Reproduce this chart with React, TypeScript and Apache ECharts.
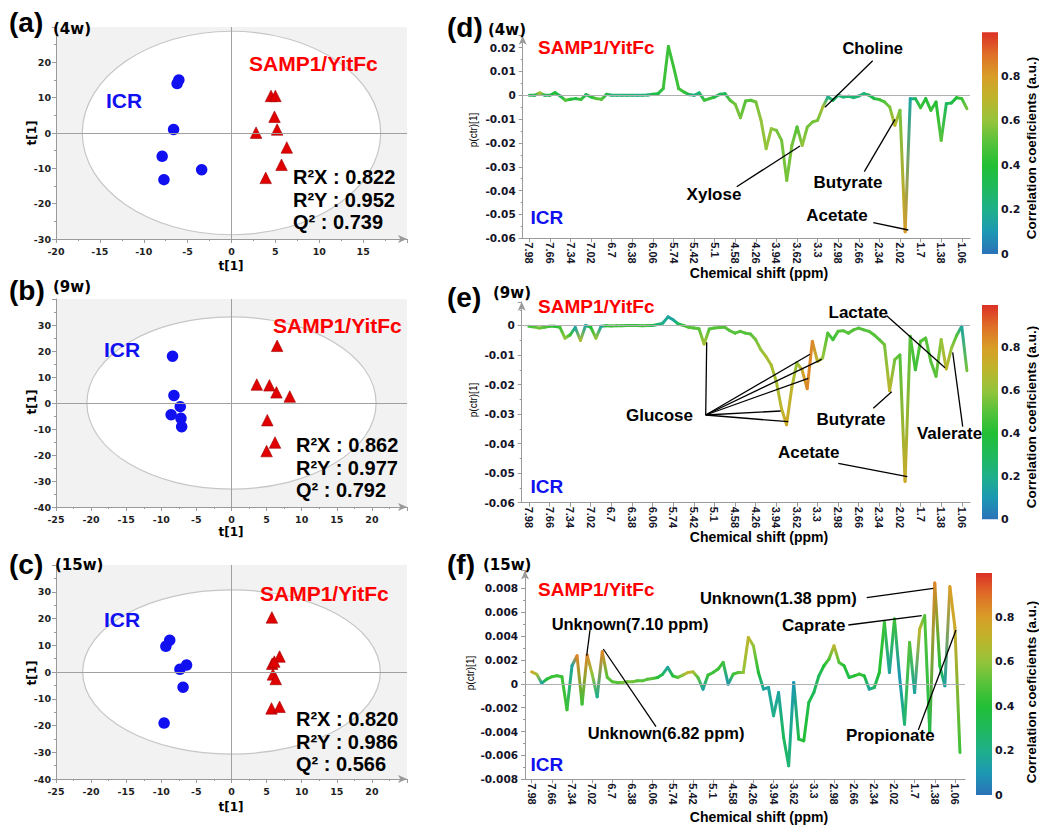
import React, { useEffect, useRef } from 'react';
import * as echarts from 'echarts';

// ---------- data ----------
const shiftLabels = ['7.98','7.66','7.34','7.02','6.7','6.38','6.06','5.74','5.42','5.1','4.58','4.26','3.94','3.62','3.3','2.98','2.66','2.34','2.02','1.7','1.38','1.06'];
const BINS = 4; // spectral bins between two shift labels

// loadings p(ctr)[1], in units of 1e-3
const p4wMilli = [
  0,0,1.0,0,0,1.1,-0.3,-2.1,-1.7,-1.4,
  -1.8,0.3,-0.7,-1.4,-1.7,0.4,0,0,0,0,
  0,0,0,0.1,0.4,0.7,2.8,20.5,12.0,2.8,
  1.4,0.3,0,1.0,-2.1,-1.4,-0.7,0.4,0.7,-2.1,
  -3.8,-9.4,-2.4,-2.1,-2.8,-10.5,-22.4,-14.0,-14.7,-18.9,
  -35.7,-21.0,-13.3,-21.0,-13.3,-11.2,-10.5,-4.9,-0.7,-2.1,
  0,-0.7,-0.4,-1.0,-0.3,0.7,0,-1.4,-1.8,-2.8,
  -4.9,-12.6,-6.3,-57.3,-1.4,-1.4,-5.2,-1.4,-6.3,-2.8,
  -18.9,-3.5,-3.2,-1.0,-1.4,-5.6
];
const corr4w = [
  0.3,0.3,0.65,0.3,0.35,0.4,0.3,0.5,0.4,0.35,
  0.45,0.3,0.4,0.5,0.5,0.35,0.25,0.25,0.25,0.25,
  0.25,0.2,0.25,0.25,0.35,0.35,0.45,0.45,0.45,0.45,
  0.45,0.3,0.2,0.25,0.45,0.45,0.35,0.3,0.3,0.5,
  0.55,0.55,0.5,0.5,0.55,0.6,0.6,0.6,0.55,0.55,
  0.55,0.55,0.5,0.6,0.55,0.55,0.55,0.65,0.2,0.3,
  0.25,0.25,0.25,0.25,0.25,0.25,0.3,0.35,0.45,0.5,
  0.55,0.7,0.55,0.8,0.15,0.3,0.45,0.4,0.45,0.4,
  0.5,0.3,0.35,0.4,0.45,0.55
];
const p9wMilli = [
  -0.3,-0.5,-0.9,-0.6,-0.3,-0.3,-0.6,-4.3,-3.2,-0.7,
  -5.1,0,-0.6,-4.3,-0.3,-0.1,-0.2,-0.1,-0.1,0,
  0,0,-0.1,0,0,0.3,0.8,2.9,1.9,0.5,
  0,-0.6,-0.9,-1.1,-6.3,-1.2,-0.9,-0.7,-0.6,-1.8,
  -2.6,-2.0,-2.6,-2.9,-4.8,-8.2,-10.5,-13.3,-18.9,-28.0,
  -33.6,-21.2,-12.7,-15.0,-21.4,-5.4,-12.2,-11.0,-2.6,-4.8,
  -2.0,-1.8,-2.6,-1.5,-0.9,-1.5,-2.0,-3.2,-4.8,-6.5,
  -22.1,-11.6,-10.0,-52.8,-3.7,-15.0,-5.4,-4.3,-12.2,-17.2,
  -4.8,-14.7,-7.7,-3.4,-0.3,-15.3
];
const corr9w = [
  0.45,0.5,0.55,0.5,0.45,0.4,0.45,0.6,0.45,0.15,
  0.65,0.15,0.4,0.6,0.15,0.4,0.45,0.45,0.45,0.45,
  0.45,0.45,0.45,0.45,0.35,0.25,0.2,0.15,0.15,0.3,
  0.45,0.5,0.5,0.5,0.65,0.5,0.5,0.5,0.5,0.5,
  0.5,0.5,0.5,0.5,0.55,0.6,0.65,0.65,0.65,0.7,
  0.75,0.7,0.6,0.75,0.85,0.85,0.7,0.6,0.5,0.45,
  0.5,0.5,0.5,0.5,0.5,0.5,0.5,0.5,0.5,0.55,
  0.7,0.55,0.5,0.75,0.5,0.45,0.5,0.5,0.5,0.5,
  0.6,0.7,0.6,0.5,0.15,0.55
];
const p15wMilli = [
  1.0,0.8,0.05,0.39,0.59,0.67,0.59,-2.18,1.51,2.35,
  -1.70,2.40,0.81,-1.09,2.68,0.53,0.17,0.11,0.11,0.17,
  0.17,0.25,0.25,0.39,0.45,0.53,0.81,1.37,0.67,0.53,
  0.73,0.95,1.0,0.53,-0.45,0.73,0.95,1.23,1.79,-0.03,
  0.81,0.95,0.95,3.88,3.18,0.95,-0.45,-0.31,-2.68,-0.73,
  -4.5,-6.87,0.11,-4.64,-4.78,-1.56,-0.73,0.67,1.51,2.07,
  3.18,1.79,1.51,0.53,0.67,0.81,0.67,-0.45,-0.31,0.95,
  5.14,0.95,5.42,0.67,-3.38,3.46,-0.73,4.58,5.70,-4.08,
  8.44,1.51,-0.17,8.13,4.72,-5.75
];
const corr15w = [
  0.75,0.65,0.15,0.4,0.45,0.45,0.45,0.45,0.15,0.85,
  0.45,0.85,0.6,0.2,0.85,0.5,0.5,0.5,0.55,0.55,
  0.55,0.5,0.5,0.5,0.5,0.4,0.3,0.15,0.4,0.5,
  0.6,0.7,0.65,0.5,0.15,0.45,0.45,0.45,0.45,0.1,
  0.45,0.5,0.6,0.7,0.6,0.4,0.15,0.15,0.2,0.15,
  0.3,0.25,0.1,0.35,0.4,0.35,0.3,0.3,0.4,0.5,
  0.7,0.5,0.4,0.35,0.4,0.45,0.4,0.15,0.3,0.4,
  0.45,0.15,0.45,0.1,0.25,0.5,0.15,0.7,0.5,0.35,
  0.85,0.4,0.15,0.8,0.75,0.45
];

// OPLS-DA scores t[1] (x) vs orthogonal t[1] (y)
const icr4w = [[-6.0,15],[-6.2,14],[-6.6,1],[-7.9,-6.6],[-7.7,-13.2],[-3.4,-10.4]];
const samp4w = [[4.5,10.5],[5.0,10.5],[4.9,4.6],[5.2,1.0],[2.8,0.1],[6.3,-4.1],[5.7,-9],[3.9,-12.7]];
const icr9w = [[-8.4,18],[-8.2,2.9],[-7.3,-1.4],[-8.6,-4.5],[-7.2,-5.9],[-7.1,-9.1]];
const samp9w = [[6.5,22],[3.6,7.1],[5.4,6.8],[6.4,4.1],[8.3,2.5],[5.1,-6.6],[6.2,-15.2],[5.0,-18.5]];
const icr15w = [[-8.8,11.9],[-9.35,9.6],[-7.35,1.0],[-6.4,2.6],[-6.9,-5.7],[-9.6,-19.1]];
const samp15w = [[5.75,20.4],[6.85,5.8],[5.8,3.1],[6.1,3.9],[5.9,-0.9],[6.3,-2.6],[5.7,-13.6],[6.85,-13]];
// Hotelling T2 ellipse radii [rx, ry]
const ellipse4w = [17, 28.8];
const ellipse9w = [20.6, 33.1];
const ellipse15w = [21.2, 30.7];
const stats4w = ['R²X : 0.822', 'R²Y : 0.952', 'Q² : 0.739'];
const stats9w = ['R²X : 0.862', 'R²Y : 0.977', 'Q² : 0.792'];
const stats15w = ['R²X : 0.820', 'R²Y : 0.986', 'Q² : 0.566'];

// ---------- styling helpers ----------
const ARIAL = '"Liberation Sans", Arial, sans-serif';
const VERD = '"DejaVu Sans", Verdana, sans-serif';
const NARROW = '"Liberation Sans Narrow", "Liberation Sans", Arial, sans-serif';
const RED = '#ff0000';
const BLUE = '#1010f0';
const AXIS_GRAY = '#9a9a9a';

const cmapStops: [number, string][] = [
  [0, '#2a72b8'], [0.1, '#1d98b3'], [0.2, '#1fb08a'], [0.3, '#1fb95c'], [0.4, '#22bf35'],
  [0.5, '#55c23a'], [0.6, '#94c43b'], [0.7, '#bdb52c'], [0.8, '#d89e27'], [0.9, '#df6f28'], [1, '#dc3025']
];
function hex(h: string) {
  return [parseInt(h.slice(1, 3), 16), parseInt(h.slice(3, 5), 16), parseInt(h.slice(5, 7), 16)];
}
function cmap(t: number) {
  const v = Math.max(0, Math.min(1, t));
  for (let k = 0; k < cmapStops.length - 1; k++) {
    const [a, ca] = cmapStops[k];
    const [b, cb] = cmapStops[k + 1];
    if (v <= b) {
      const f = (v - a) / (b - a);
      const A = hex(ca), B = hex(cb);
      return `rgb(${Math.round(A[0] + (B[0] - A[0]) * f)},${Math.round(A[1] + (B[1] - A[1]) * f)},${Math.round(A[2] + (B[2] - A[2]) * f)})`;
    }
  }
  return cmapStops[cmapStops.length - 1][1];
}

function txt(text: string, x: number, y: number, size: number, opts: any = {}) {
  return {
    type: 'text', x, y, rotation: opts.rotation || 0, silent: true, z: 100,
    style: {
      text, fill: opts.color || '#000',
      font: `${opts.weight || 'bold'} ${size}px ${opts.family || ARIAL}`,
      textAlign: opts.align || 'left', textVerticalAlign: 'middle'
    }
  };
}
function seg(x1: number, y1: number, x2: number, y2: number) {
  return { type: 'line', silent: true, z: 100, shape: { x1, y1, x2, y2 }, style: { stroke: '#000', lineWidth: 1.3 } };
}

function buildOption() {
  const grid: any[] = [];
  const xAxis: any[] = [];
  const yAxis: any[] = [];
  const series: any[] = [];
  const graphic: any[] = [];

  // ----- score plots -----
  const scorePanels = [
    { box: { left: 56, top: 27, width: 351, height: 212 }, xr: [-20, 20], yr: [-30, 30], yInt: 10, icr: icr4w, samp: samp4w, ell: ellipse4w },
    { box: { left: 56, top: 299, width: 351, height: 208 }, xr: [-25, 25], yr: [-40, 40], yInt: 10, icr: icr9w, samp: samp9w, ell: ellipse9w },
    { box: { left: 56, top: 565, width: 351, height: 214 }, xr: [-25, 25], yr: [-40, 40], yInt: 10, icr: icr15w, samp: samp15w, ell: ellipse15w },
  ];
  const tickLabel = { fontFamily: VERD, fontWeight: 'bold', fontSize: 9.5, color: '#1e1e1e' };
  scorePanels.forEach((p, k) => {
    grid.push({ ...p.box, show: true, backgroundColor: '#f2f2f2', borderWidth: 0, containLabel: false, outerBoundsMode: 'none' });
    xAxis.push({
      gridIndex: k, type: 'value', min: p.xr[0], max: p.xr[1], interval: 5,
      axisLine: { show: true, onZero: false, symbol: ['none', 'arrow'], symbolSize: [6, 9], lineStyle: { color: AXIS_GRAY } },
      axisTick: { show: true, length: 4, lineStyle: { color: AXIS_GRAY } },
      minorTick: { show: true, splitNumber: 2, length: 2, lineStyle: { color: AXIS_GRAY } },
      splitLine: { show: false },
      axisLabel: { ...tickLabel, showMaxLabel: false, margin: 7 }
    });
    yAxis.push({
      gridIndex: k, type: 'value', min: p.yr[0], max: p.yr[1], interval: p.yInt,
      axisLine: { show: true, onZero: false, lineStyle: { color: AXIS_GRAY } },
      axisTick: { show: true, length: 4, lineStyle: { color: AXIS_GRAY } },
      minorTick: { show: true, splitNumber: 2, length: 2, lineStyle: { color: AXIS_GRAY } },
      splitLine: { show: false },
      axisLabel: { ...tickLabel, showMaxLabel: false, margin: 5 }
    });
    const ell = p.ell;
    series.push({
      type: 'custom', xAxisIndex: k, yAxisIndex: k, z: 1, silent: true, data: [[0, 0]],
      renderItem: (_params: any, api: any) => {
        const c = api.coord([0, 0]);
        const s = api.size([ell[0], ell[1]], [0, 0]);
        return { type: 'ellipse', shape: { cx: c[0], cy: c[1], rx: s[0], ry: s[1] }, style: { fill: '#ffffff', stroke: '#c6c6c6', lineWidth: 1.2 } };
      }
    });
    series.push({
      type: 'scatter', xAxisIndex: k, yAxisIndex: k, z: 3, symbol: 'circle', symbolSize: 11.5,
      itemStyle: { color: BLUE, opacity: 1 }, data: p.icr,
      markLine: {
        silent: true, symbol: 'none', label: { show: false }, animation: false,
        lineStyle: { color: '#a0a0a0', width: 1, type: 'solid' },
        data: [{ xAxis: 0 }, { yAxis: 0 }]
      }
    });
    series.push({
      type: 'scatter', xAxisIndex: k, yAxisIndex: k, z: 3, symbol: 'triangle', symbolSize: 11.5,
      itemStyle: { color: '#e00000', borderColor: '#a00000', borderWidth: 0.6, opacity: 1 }, data: p.samp
    });
  });

  // ----- loading (S-line) plots -----
  const tickIdx = shiftLabels.map((_, k) => k * BINS);
  const linePanels = [
    { box: { left: 522.7, top: 35.7, width: 447.3, height: 202.6 }, xr: [-1.3, 85.6], yr: [-0.06, 0.025], yInt: 0.01, p: p4wMilli, c: corr4w },
    { box: { left: 521.7, top: 301.8, width: 448.3, height: 200.9 }, xr: [-1.4, 85.6], yr: [-0.06, 0.008], yInt: 0.01, p: p9wMilli, c: corr9w },
    { box: { left: 525, top: 570.4, width: 440, height: 208.9 }, xr: [-1.33, 86.0], yr: [-0.008, 0.0095], yInt: 0.002, p: p15wMilli, c: corr15w },
  ];
  const yLab = { fontFamily: VERD, fontWeight: 'bold', fontSize: 10.5, color: '#141428' };
  linePanels.forEach((lp, j) => {
    const gi = 3 + j;
    const vals = lp.p.map(v => v / 1000);
    const cor = lp.c;
    grid.push({ ...lp.box, show: false, containLabel: false, outerBoundsMode: 'none' });
    xAxis.push({
      gridIndex: gi, type: 'value', min: lp.xr[0], max: lp.xr[1],
      axisLine: { show: true, onZero: false, lineStyle: { color: AXIS_GRAY } },
      axisTick: { show: true, length: 4, customValues: tickIdx, lineStyle: { color: AXIS_GRAY } },
      splitLine: { show: false },
      axisLabel: {
        customValues: tickIdx, rotate: -90, margin: 4,
        fontFamily: NARROW, fontWeight: 'bold', fontSize: 11, color: '#141428',
        formatter: (v: number) => shiftLabels[Math.round(v / BINS)] ?? ''
      }
    });
    yAxis.push({
      gridIndex: gi, type: 'value', min: lp.yr[0], max: lp.yr[1], interval: lp.yInt,
      axisLine: { show: true, onZero: false, symbol: ['none', 'arrow'], symbolSize: [6, 9], lineStyle: { color: AXIS_GRAY } },
      axisTick: { show: true, length: 4, lineStyle: { color: AXIS_GRAY } },
      minorTick: { show: true, splitNumber: 2, length: 2, lineStyle: { color: AXIS_GRAY } },
      splitLine: { show: false },
      axisLabel: {
        ...yLab, showMaxLabel: false, margin: 7,
        formatter: (v: number) => { const r = Math.round(v * 10000) / 10000; return r === 0 ? '0' : String(r); }
      }
    });
    // invisible host for the zero reference line
    series.push({
      type: 'line', xAxisIndex: gi, yAxisIndex: gi, z: 1, silent: true, symbol: 'none',
      lineStyle: { opacity: 0 }, data: vals.map((v, i) => [i, v]),
      markLine: {
        silent: true, symbol: 'none', label: { show: false }, animation: false,
        lineStyle: { color: '#b0b0b0', width: 1.2, type: 'solid' }, data: [{ yAxis: 0 }]
      }
    });
    // spectrum coloured by correlation coefficient
    series.push({
      type: 'custom', xAxisIndex: gi, yAxisIndex: gi, z: 3, silent: true,
      encode: { x: 0, y: 1 },
      data: vals.map((v, i) => [i, v, cor[i]]),
      renderItem: (params: any, api: any) => {
        const i = params.dataIndex;
        if (i >= vals.length - 1) return { type: 'group', children: [] };
        const a = api.coord([i, vals[i]]);
        const b = api.coord([i + 1, vals[i + 1]]);
        const grad = new echarts.graphic.LinearGradient(a[0], a[1], b[0] + 0.01, b[1] + 0.01, [
          { offset: 0, color: cmap(cor[i]) }, { offset: 1, color: cmap(cor[i + 1]) }
        ], true);
        return {
          type: 'line', shape: { x1: a[0], y1: a[1], x2: b[0], y2: b[1] },
          style: { stroke: grad, lineWidth: 3, lineCap: 'round' }
        };
      }
    });
  });

  // ----- colour bars -----
  const barBoxes = [
    { left: 982, top: 32.3, width: 16, height: 221.7 },
    { left: 982, top: 305, width: 16, height: 214.3 },
    { left: 976, top: 573, width: 16, height: 222 },
  ];
  const gradStops = cmapStops.map(([o, c]) => ({ offset: o, color: c }));
  barBoxes.forEach((b, j) => {
    const gi = 6 + j;
    grid.push({ ...b, show: false, containLabel: false, outerBoundsMode: 'none' });
    xAxis.push({ gridIndex: gi, type: 'category', data: ['r'], show: false, boundaryGap: true });
    yAxis.push({
      gridIndex: gi, type: 'value', min: 0, max: 1, interval: 0.2, position: 'right',
      axisLine: { show: false }, axisTick: { show: false }, splitLine: { show: false },
      axisLabel: { fontFamily: VERD, fontWeight: 'bold', fontSize: 11, color: '#141428', margin: 3, showMaxLabel: false,
        formatter: (v: number) => (Math.round(v * 10) / 10 === 0 ? '0' : String(Math.round(v * 10) / 10)) }
    });
    series.push({
      type: 'bar', xAxisIndex: gi, yAxisIndex: gi, silent: true, barWidth: '100%', data: [1],
      itemStyle: { color: new echarts.graphic.LinearGradient(0, 1, 0, 0, gradStops) }
    });
  });

  // ----- texts -----
  const scoreText = [
    { tag: '(a)', wk: '(4w)', tagY: 22, wkX: 53, wkY: 29, icr: [106, 100], samp: [249, 63], st: stats4w, sx: 293, sy: [177, 200, 222], tx: [231, 266], ty: [32, 133] },
    { tag: '(b)', wk: '(9w)', tagY: 290, wkX: 53, wkY: 287, icr: [104, 349], samp: [273, 325], st: stats9w, sx: 296, sy: [445, 468, 490], tx: [231, 532], ty: [32, 402] },
    { tag: '(c)', wk: '(15w)', tagY: 564, wkX: 55, wkY: 565, icr: [104, 619], samp: [260, 593], st: stats15w, sx: 296, sy: [719, 742, 764], tx: [231, 807], ty: [32, 673] },
  ];
  scoreText.forEach(s => {
    graphic.push(txt(s.tag, 9, s.tagY, 28));
    graphic.push(txt(s.wk, s.wkX, s.wkY, 15, { family: VERD }));
    graphic.push(txt('ICR', s.icr[0], s.icr[1], 21, { color: BLUE }));
    graphic.push(txt('SAMP1/YitFc', s.samp[0], s.samp[1], 21, { color: RED }));
    s.st.forEach((line, i) => graphic.push(txt(line, s.sx, s.sy[i], 20)));
    graphic.push(txt('t[1]', s.tx[0], s.tx[1], 12, { family: VERD, align: 'center' }));
    graphic.push(txt('t[1]', s.ty[0], s.ty[1], 12, { family: VERD, align: 'center', rotation: Math.PI / 2 }));
  });

  const lineText = [
    { tag: '(d)', wk: '(4w)', tagY: 27, wkX: 488, wkY: 30, samp: 47, icr: 217, xn: 273, yn: [473, 130], cb: [1031, 148] },
    { tag: '(e)', wk: '(9w)', tagY: 297, wkX: 493, wkY: 293, samp: 306, icr: 486, xn: 537, yn: [473, 400], cb: [1031, 417] },
    { tag: '(f)', wk: '(15w)', tagY: 564, wkX: 483, wkY: 565, samp: 589, icr: 764, xn: 817, yn: [470, 673], cb: [1031, 692] },
  ];
  lineText.forEach(s => {
    graphic.push(txt(s.tag, 447, s.tagY, 28));
    graphic.push(txt(s.wk, s.wkX, s.wkY, 15, { family: VERD }));
    graphic.push(txt('SAMP1/YitFc', 538, s.samp, 19, { color: RED }));
    graphic.push(txt('ICR', 530.5, s.icr, 19, { color: BLUE }));
    graphic.push(txt('Chemical shift (ppm)', 759, s.xn, 14, { align: 'center' }));
    graphic.push(txt('p(ctr)[1]', s.yn[0], s.yn[1], 10, { weight: 'normal', align: 'center', rotation: Math.PI / 2 }));
    graphic.push(txt('Correlation coeficients (a.u.)', s.cb[0], s.cb[1], 13.5, { align: 'center', rotation: Math.PI / 2 }));
  });

  // annotations (d)
  graphic.push(txt('Choline', 872.7, 47.5, 16.5, { align: 'center' }), seg(872.7, 60.7, 825, 107.3));
  graphic.push(txt('Xylose', 714, 194.5, 17, { align: 'center' }), seg(736.7, 186.7, 800, 146));
  graphic.push(txt('Butyrate', 848, 182.5, 17, { align: 'center' }), seg(864.3, 171.7, 895, 119.3));
  graphic.push(txt('Acetate', 837, 215, 17, { align: 'center' }), seg(873.3, 222.7, 908.3, 230));
  // annotations (e)
  graphic.push(txt('Glucose', 659.5, 415.5, 17, { align: 'center' }));
  [[706.7, 342.3], [810, 354.3], [821.7, 359.3], [808.3, 378.3], [780.7, 411], [788.3, 421.7]].forEach(([x, y]) => graphic.push(seg(705.7, 415, x, y)));
  graphic.push(txt('Butyrate', 851, 419, 17, { align: 'center' }), seg(873.3, 408.3, 891.7, 391.7));
  graphic.push(txt('Acetate', 808.7, 452, 17, { align: 'center' }), seg(838.3, 463.3, 907.3, 476.7));
  graphic.push(txt('Lactate', 858.3, 312, 17, { align: 'center' }), seg(886.7, 315.7, 945, 367.7));
  graphic.push(txt('Valerate', 949.5, 433, 17, { align: 'center' }), seg(962.7, 426.7, 952.7, 352.3));
  // annotations (f)
  graphic.push(txt('Unknown(7.10 ppm)', 630, 623.5, 16.5, { align: 'center' }), seg(590, 630, 586.7, 655.7));
  graphic.push(txt('Unknown(6.82 ppm)', 666, 733, 16.5, { align: 'center' }), seg(656, 726.7, 603.3, 649));
  graphic.push(txt('Unknown(1.38 ppm)', 778.3, 597.7, 16.5, { align: 'center' }), seg(866.7, 597.7, 933.3, 588.3));
  graphic.push(txt('Caprate', 813.7, 625, 17, { align: 'center' }), seg(848.3, 625, 921.7, 615.7));
  graphic.push(txt('Propionate', 890.3, 735.7, 17, { align: 'center' }), seg(918.3, 730, 956, 630));

  return {
    animation: false,
    backgroundColor: '#ffffff',
    grid, xAxis, yAxis, series, graphic
  };
}

export default function App() {
  const ref = useRef<HTMLDivElement>(null);
  useEffect(() => {
    const chart = echarts.init(ref.current as HTMLDivElement, null, { renderer: 'svg' });
    chart.setOption(buildOption() as any);
    return () => chart.dispose();
  }, []);
  return <div ref={ref} style={{ position: 'absolute', left: 0, top: 0, width: 1039, height: 825, background: '#fff' }} />;
}
